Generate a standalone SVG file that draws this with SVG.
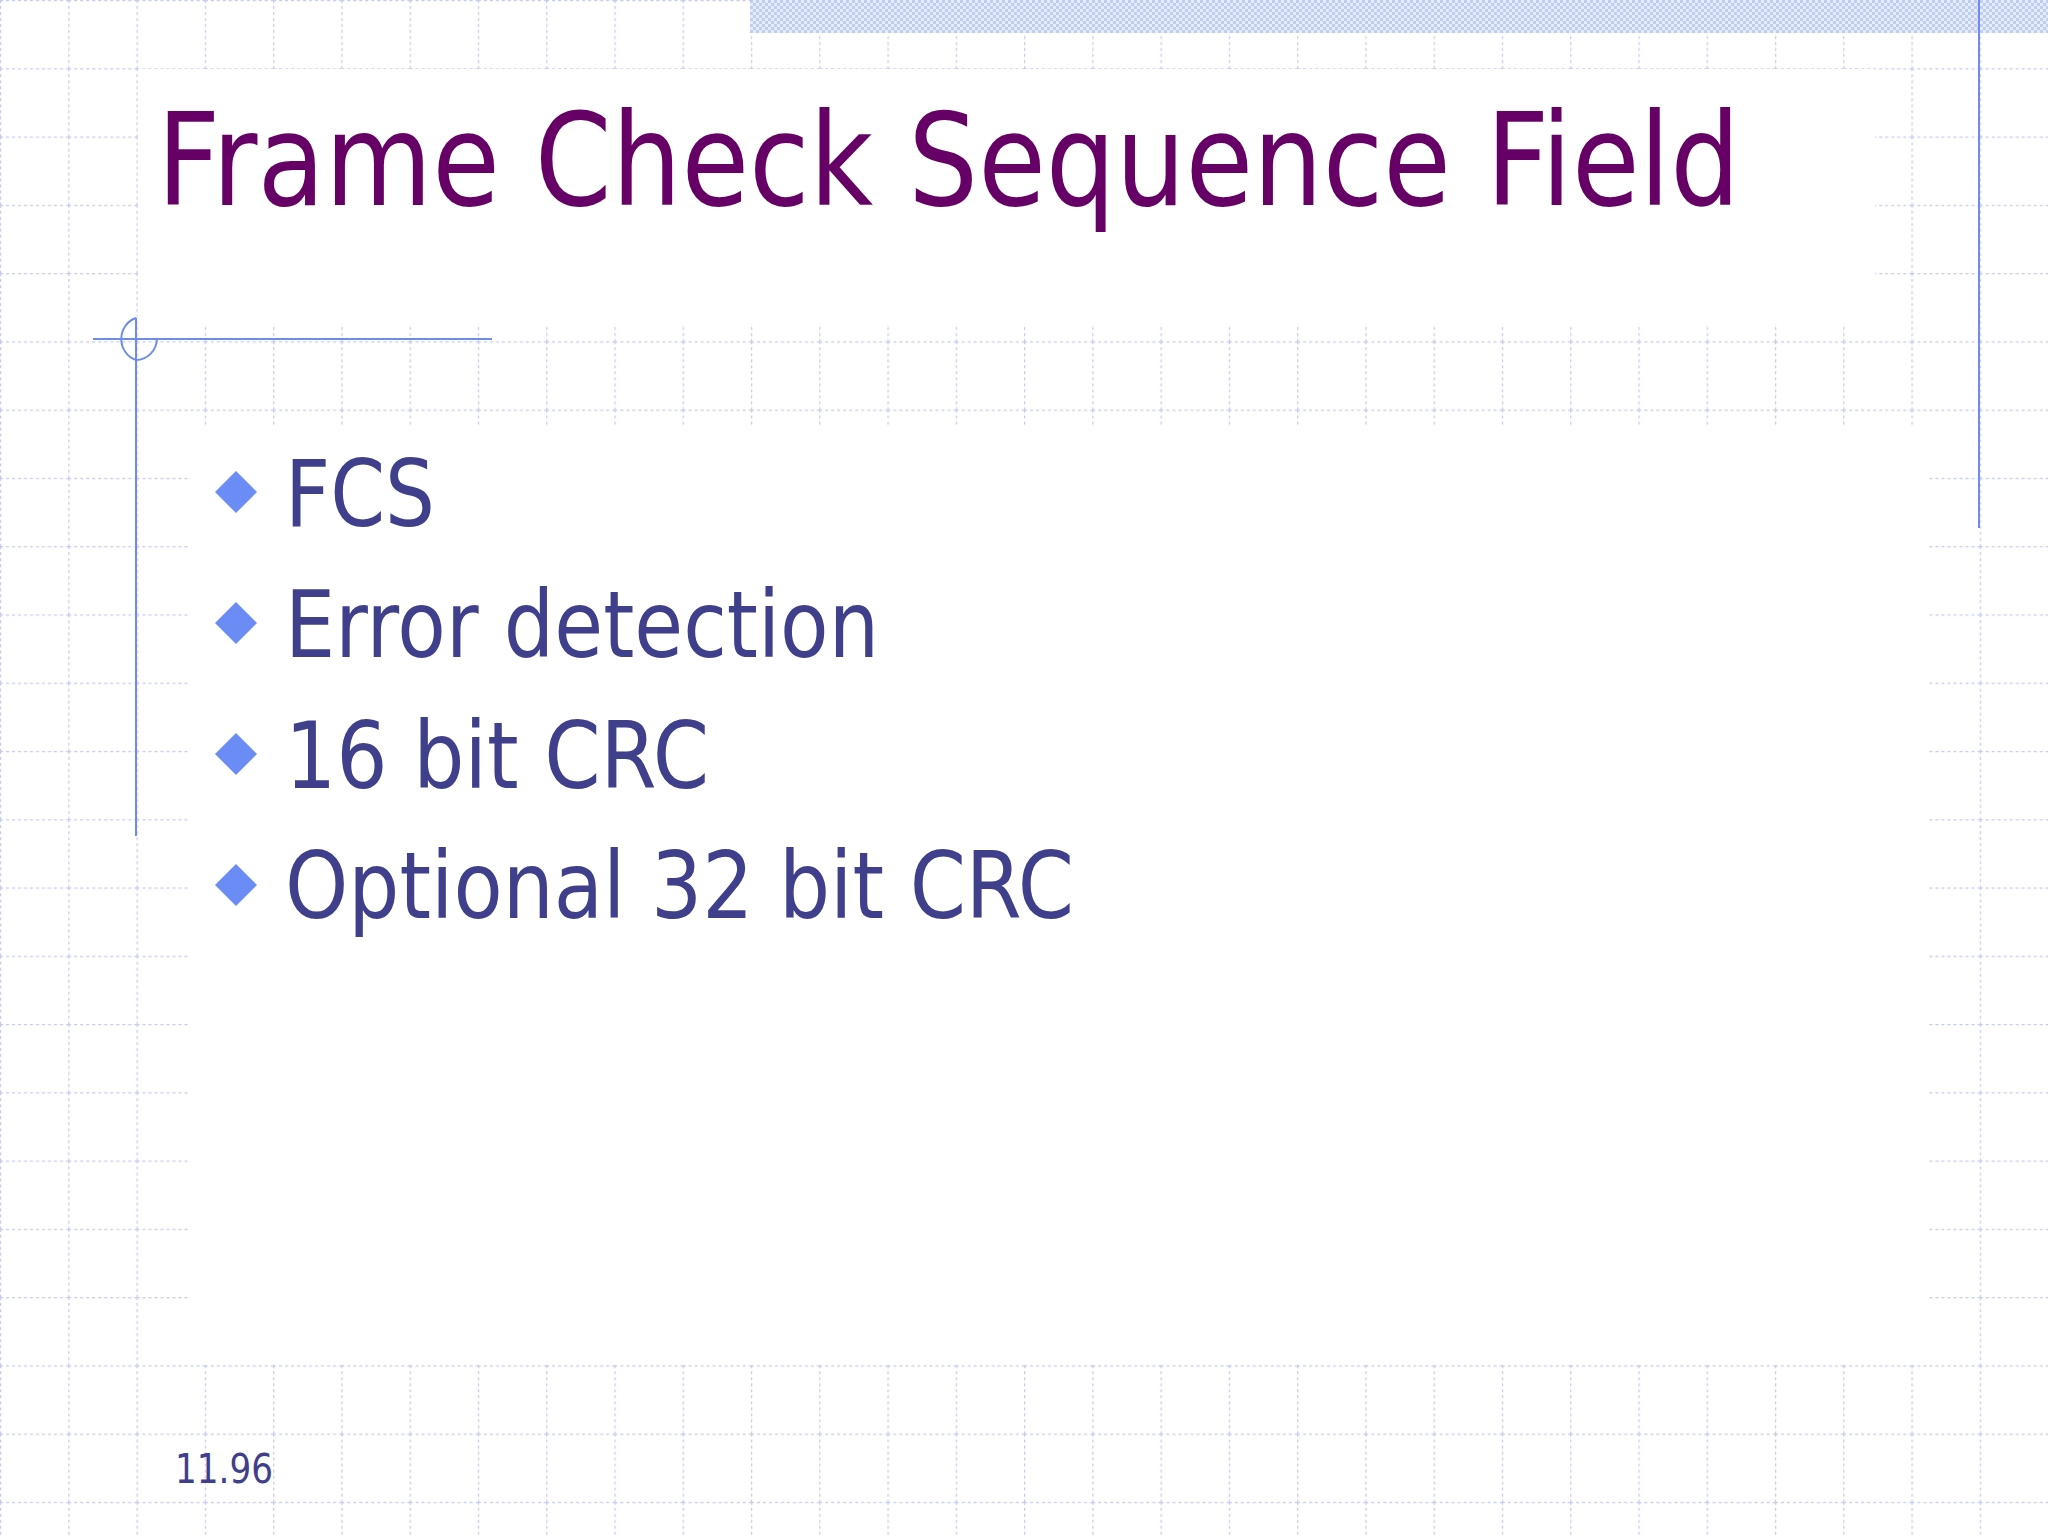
<svg xmlns="http://www.w3.org/2000/svg" width="2048" height="1536" viewBox="0 0 2048 1536">
<defs>
<pattern id="grid" width="68.2667" height="68.2667" patternUnits="userSpaceOnUse">
<line x1="0.5" y1="0" x2="0.5" y2="68.27" stroke="#c4caf0" stroke-width="1.5" stroke-dasharray="3,3"/>
<line x1="0" y1="0.5" x2="68.27" y2="0.5" stroke="#c4caf0" stroke-width="1.5" stroke-dasharray="3,3"/>
</pattern>
<pattern id="hatch" width="6" height="6" patternUnits="userSpaceOnUse">
<rect width="6" height="6" fill="#e6ebfa"/>
<rect width="3" height="3" fill="#bfcdf2"/>
<rect x="3" y="3" width="3" height="3" fill="#bfcdf2"/>
</pattern>
<style>
.bul{font-family:"DejaVu Sans",Verdana,sans-serif;font-size:92px;fill:#3f3f8c}
.dia{fill:#6b8cf5}
.blue{stroke:#6f8de8;stroke-width:2;fill:none}
</style>
</defs>
<rect width="2048" height="1536" fill="#ffffff"/>
<rect width="2048" height="1536" fill="url(#grid)"/>
<rect x="750" y="0" width="1298" height="33" fill="url(#hatch)"/>
<rect x="138" y="69" width="1737" height="255" fill="#ffffff"/>
<rect x="188" y="426" width="1740" height="939" fill="#ffffff"/>
<g id="decor">
<line class="blue" x1="93" y1="339" x2="492" y2="339"/>
<line class="blue" x1="136" y1="318" x2="136" y2="836"/>
<path class="blue" d="M136,318 A21,22 0 0 0 136,360 A21,22 0 0 0 157,339"/>
<line class="blue" x1="1979" y1="0" x2="1979" y2="528"/>
</g>
<g id="title">
<text x="157" y="205" font-family="DejaVu Sans,Verdana,sans-serif" font-size="128" fill="#660066" textLength="1583" lengthAdjust="spacingAndGlyphs">Frame Check Sequence Field</text>
</g>
<g id="bullets">
<path class="dia" d="M236,471 L257,492 L236,513 L215,492 Z"/>
<text class="bul" x="285" y="526" textLength="150" lengthAdjust="spacingAndGlyphs">FCS</text>
<path class="dia" d="M236,602 L257,623 L236,644 L215,623 Z"/>
<text class="bul" x="285" y="657" textLength="594" lengthAdjust="spacingAndGlyphs">Error detection</text>
<path class="dia" d="M236,733 L257,754 L236,775 L215,754 Z"/>
<text class="bul" x="285" y="788" textLength="424" lengthAdjust="spacingAndGlyphs">16 bit CRC</text>
<path class="dia" d="M236,864 L257,885 L236,906 L215,885 Z"/>
<text class="bul" x="285" y="918" textLength="789" lengthAdjust="spacingAndGlyphs">Optional 32 bit CRC</text>
</g>
<g id="footer">
<text x="175" y="1483" font-family="DejaVu Sans,Verdana,sans-serif" font-size="40" fill="#3f3f8c" textLength="98" lengthAdjust="spacingAndGlyphs">11.96</text>
</g>
</svg>
